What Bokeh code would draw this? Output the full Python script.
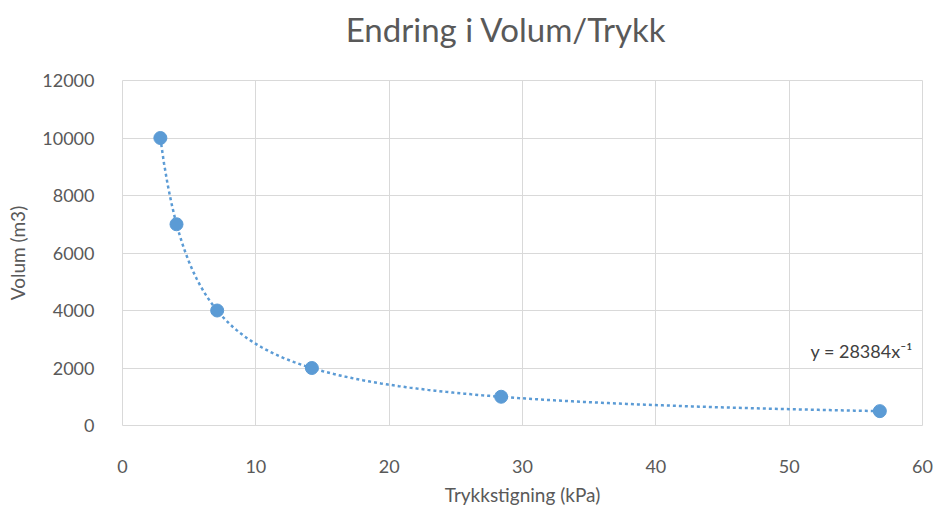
from bokeh.plotting import figure
from bokeh.layouts import column
from bokeh.models import FixedTicker, Range1d
from bokeh.embed import file_html
from bokeh.resources import INLINE
from bokeh.core.properties import value

# Measured pressure rise (kPa) and corresponding volume (m3)
trykk_kpa = [2.84, 4.05, 7.1, 14.2, 28.4, 56.8]
volum_m3 = [10000, 7000, 4000, 2000, 1000, 500]

# Power trendline y = a * x^b, as given in the label
trend_a = 28384
trend_b = -1
trend_label = "y = 28384x\u207b\u00b9"

chart_title = "Endring i Volum/Trykk"
x_ticks = [0, 10, 20, 30, 40, 50, 60]
y_ticks = [0, 2000, 4000, 6000, 8000, 10000, 12000]

FONT = "Lato"
GREY = "#595959"
BLUE = "#5b9bd5"

# Header strip holding the chart title
HEAD_H = 70
head = figure(
    width=936, height=HEAD_H,
    output_backend="svg", toolbar_location=None,
    x_range=Range1d(0, 936), y_range=Range1d(0, HEAD_H),
    x_axis_location=None, y_axis_location=None,
    min_border_left=0, min_border_right=0,
    min_border_top=0, min_border_bottom=0, title=None,
)
head.outline_line_color = None
head.grid.visible = False
head.text(x=[449], y=[HEAD_H - 28], text=[chart_title],
          text_font=value(FONT), text_font_size="33px",
          text_color=GREY, text_align="center", text_baseline="middle")

# Main scatter chart
p = figure(
    width=936, height=508 - HEAD_H,
    output_backend="svg", toolbar_location=None,
    x_range=Range1d(0, 60), y_range=Range1d(0, 12000),
    min_border_left=122, min_border_right=14,
    min_border_top=10, min_border_bottom=80,
    title=None,
)
p.background_fill_color = "white"
p.border_fill_color = "white"
p.outline_line_color = "#d9d9d9"

for ax in (p.xaxis[0], p.yaxis[0]):
    ax.axis_line_color = None
    ax.major_tick_line_color = None
    ax.minor_tick_line_color = None
    ax.major_label_text_font = FONT
    ax.major_label_text_font_size = "18px"
    ax.major_label_text_color = GREY
    ax.axis_label_text_font = FONT
    ax.axis_label_text_font_size = "19px"
    ax.axis_label_text_font_style = "normal"
    ax.axis_label_text_color = GREY

p.xaxis.ticker = FixedTicker(ticks=x_ticks)
p.yaxis.ticker = FixedTicker(ticks=y_ticks)
p.xaxis.axis_label = "Trykkstigning (kPa)"
p.yaxis.axis_label = "Volum (m3)"
p.xaxis.major_label_standoff = 28
p.xaxis.axis_label_standoff = 7
p.yaxis.major_label_standoff = 22
p.yaxis.axis_label_standoff = 10

p.xgrid.grid_line_color = "#d9d9d9"
p.ygrid.grid_line_color = "#d9d9d9"
p.xgrid.grid_line_width = 1
p.ygrid.grid_line_width = 1

# Trendline curve across the measured range
n = 200
x0, x1 = min(trykk_kpa), max(trykk_kpa)
trend_x = [x0 + (x1 - x0) * i / (n - 1) for i in range(n)]
trend_y = [trend_a * x ** trend_b for x in trend_x]
p.line(trend_x, trend_y, line_color=BLUE, line_width=2.5,
       line_dash="3 3", line_cap="butt")

# Measured points
p.scatter(trykk_kpa, volum_m3, size=13, fill_color=BLUE, line_color=BLUE)

# Trendline equation
p.text(x=[51.6], y=[2600], text=[trend_label],
       text_font=value(FONT), text_font_size="18px",
       text_color="#404040", text_align="left", text_baseline="middle")

layout = column(head, p, spacing=0)
open("out.html", "w").write(file_html(layout, INLINE))
